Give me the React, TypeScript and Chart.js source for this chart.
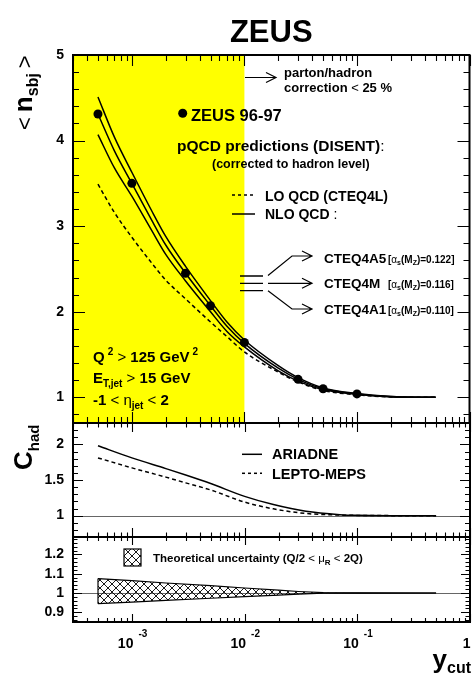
import React, { useEffect, useRef } from 'react';
import { Chart, registerables } from 'chart.js';

Chart.register(...registerables);

const FONT = '"Liberation Sans", Arial, Helvetica, sans-serif';
const W = 474;
const H = 680;

const X_MIN = 3e-4;
const X_MAX = 1;
const YELLOW_MAX = 1e-2;

// ZEUS 96-97 data
const zeusYcut = [5e-4, 1e-3, 3e-3, 5e-3, 1e-2, 3e-2, 5e-2, 1e-1];
const zeusNsbj = [4.31, 3.5, 2.45, 2.07, 1.64, 1.21, 1.1, 1.04];

// pQCD predictions (DISENT)
const curveYcut = [5e-4, 7e-4, 1e-3, 1.5e-3, 2e-3, 3e-3, 5e-3, 7e-3, 1e-2, 2e-2, 3e-2, 5e-2, 1e-1, 2e-1, 5e-1];
const nloCteq4A5 = [4.51, 4.04, 3.63, 3.18, 2.88, 2.53, 2.13, 1.88, 1.67, 1.37, 1.23, 1.11, 1.045, 1.01, 1.0];
const nloCteq4M = [4.31, 3.88, 3.5, 3.07, 2.78, 2.45, 2.07, 1.83, 1.63, 1.34, 1.21, 1.1, 1.04, 1.01, 1.0];
const nloCteq4A1 = [4.07, 3.68, 3.35, 2.95, 2.67, 2.36, 2.0, 1.77, 1.59, 1.31, 1.19, 1.09, 1.035, 1.005, 1.0];
const loCteq4L = [3.49, 3.16, 2.87, 2.57, 2.37, 2.15, 1.88, 1.71, 1.53, 1.295, 1.18, 1.08, 1.03, 1.005, 1.0];

// hadronisation corrections
const hadYcut = [5e-4, 1e-3, 2e-3, 3e-3, 5e-3, 1e-2, 1.8e-2, 3.5e-2, 7e-2, 1e-1, 2e-1, 5e-1];
const chadAriadne = [1.98, 1.81, 1.66, 1.57, 1.45, 1.27, 1.155, 1.06, 1.014, 1.004, 1.0, 1.0];
const chadLepto = [1.81, 1.67, 1.54, 1.46, 1.36, 1.19, 1.095, 1.03, 1.008, 1.003, 1.0, 1.0];

// theoretical uncertainty band
const uncYcut = [5e-4, 1e-3, 2e-3, 5e-3, 1e-2, 2e-2, 3e-2, 5e-2, 1e-1, 5e-1];
const uncUpper = [1.075, 1.064, 1.052, 1.038, 1.026, 1.015, 1.008, 1.002, 1.0005, 1.0];
const uncLower = [0.945, 0.953, 0.962, 0.973, 0.981, 0.989, 0.994, 0.999, 0.9995, 1.0];

// tick labels
const topYTicks = [1, 2, 3, 4, 5];
const midYTicks = [1, 1.5, 2];
const botYTicks = [0.9, 1, 1.1, 1.2];
const xLabelValues = [1e-3, 1e-2, 1e-1, 1];
const xLabelExponents = ['-3', '-2', '-1', ''];

type Part = { t: string; size: number; bold?: boolean; dy?: number; dx?: number };

function fontOf(p: Part) {
  return `${p.bold ? 'bold ' : ''}${p.size}px ${FONT}`;
}

function rich(ctx: CanvasRenderingContext2D, x: number, y: number, parts: Part[], align: 'left' | 'right' | 'center' = 'left') {
  ctx.textAlign = 'left';
  ctx.textBaseline = 'alphabetic';
  let total = 0;
  for (const p of parts) {
    ctx.font = fontOf(p);
    total += (p.dx || 0) + ctx.measureText(p.t).width;
  }
  let cx = align === 'right' ? x - total : align === 'center' ? x - total / 2 : x;
  for (const p of parts) {
    ctx.font = fontOf(p);
    cx += p.dx || 0;
    ctx.fillText(p.t, cx, y + (p.dy || 0));
    cx += ctx.measureText(p.t).width;
  }
}

function arrow(ctx: CanvasRenderingContext2D, pts: number[][], head = 10, half = 5) {
  ctx.beginPath();
  ctx.moveTo(pts[0][0], pts[0][1]);
  for (let i = 1; i < pts.length; i++) ctx.lineTo(pts[i][0], pts[i][1]);
  const [ex, ey] = pts[pts.length - 1];
  ctx.moveTo(ex - head, ey - half);
  ctx.lineTo(ex, ey);
  ctx.lineTo(ex - head, ey + half);
  ctx.stroke();
}

interface FrameOpts {
  yStep: number;
  yMajor: number[];
  yMajLen: number;
  yMinLen: number;
  xMajLen: number;
  xMinLen: number;
}

function drawFrame(chart: any, o: FrameOpts) {
  const { ctx, chartArea: a, scales } = chart;
  const xs = scales.x;
  const ys = scales.y;
  ctx.save();
  ctx.strokeStyle = '#000';
  ctx.lineWidth = 1.1;
  ctx.beginPath();
  for (let e = -4; e <= 0; e++) {
    for (let k = 1; k <= 9; k++) {
      const v = k * Math.pow(10, e);
      if (v < X_MIN * 0.999 || v > X_MAX * 1.001) continue;
      const px = Math.round(xs.getPixelForValue(v)) + 0.5;
      const len = k === 1 ? o.xMajLen : o.xMinLen;
      ctx.moveTo(px, a.bottom);
      ctx.lineTo(px, a.bottom - len);
      ctx.moveTo(px, a.top);
      ctx.lineTo(px, a.top + len);
    }
  }
  const n0 = Math.ceil(ys.min / o.yStep - 1e-6);
  const n1 = Math.floor(ys.max / o.yStep + 1e-6);
  for (let i = n0; i <= n1; i++) {
    const v = i * o.yStep;
    const major = o.yMajor.some((m) => Math.abs(m - v) < 1e-6);
    const py = Math.round(ys.getPixelForValue(v)) + 0.5;
    const len = major ? o.yMajLen : o.yMinLen;
    ctx.moveTo(a.left, py);
    ctx.lineTo(a.left + len, py);
    ctx.moveTo(a.right, py);
    ctx.lineTo(a.right - len, py);
  }
  ctx.stroke();
  ctx.lineWidth = 2;
  ctx.strokeRect(a.left, a.top, a.right - a.left, a.bottom - a.top);
  ctx.restore();
}

function unityLine(chart: any) {
  const { ctx, chartArea: a, scales } = chart;
  const py = Math.round(scales.y.getPixelForValue(1)) + 0.5;
  ctx.save();
  ctx.strokeStyle = '#666';
  ctx.lineWidth = 1;
  ctx.beginPath();
  ctx.moveTo(a.left, py);
  ctx.lineTo(a.right, py);
  ctx.stroke();
  ctx.restore();
}

function baseOptions(padTop: number, padBottom: number, yMin: number, yMax: number, yTicks: number[]): any {
  return {
    responsive: false,
    animation: false,
    events: [],
    layout: { padding: { top: padTop, bottom: padBottom, left: 0, right: 4 } },
    plugins: { legend: { display: false }, tooltip: { enabled: false }, title: { display: false } },
    scales: {
      x: { type: 'logarithmic', min: X_MIN, max: X_MAX, display: false },
      y: {
        type: 'linear',
        min: yMin,
        max: yMax,
        afterBuildTicks: (s: any) => {
          s.ticks = yTicks.map((v) => ({ value: v }));
        },
        afterFit: (s: any) => {
          s.width = 73;
        },
        grid: { display: false, drawTicks: false },
        border: { display: false },
        ticks: {
          color: '#000',
          autoSkip: false,
          padding: 9,
          font: { family: FONT, size: 14, weight: 'bold' },
          callback: (v: any) => String(v),
        },
      },
    },
  };
}

function lineDs(xs: number[], ys: number[], dash: number[] = []) {
  return {
    data: xs.map((x, i) => ({ x, y: ys[i] })),
    borderColor: '#000',
    borderWidth: 1.5,
    borderDash: dash,
    pointRadius: 0,
    cubicInterpolationMode: 'monotone',
    fill: false,
  };
}

function makeHatch(): any {
  const c = document.createElement('canvas');
  c.width = 8;
  c.height = 8;
  const g = c.getContext('2d')!;
  g.strokeStyle = '#000';
  g.lineWidth = 0.9;
  g.beginPath();
  g.moveTo(-2, -2);
  g.lineTo(10, 10);
  g.moveTo(10, -2);
  g.lineTo(-2, 10);
  g.stroke();
  return g.createPattern(c, 'repeat');
}

export default function App() {
  const r1 = useRef<HTMLCanvasElement>(null);
  const r2 = useRef<HTMLCanvasElement>(null);
  const r3 = useRef<HTMLCanvasElement>(null);

  useEffect(() => {
    const charts: Chart[] = [];
    const hatch = makeHatch();

    // ---------- top panel ----------
    const topPlugin = {
      id: 'topPanel',
      beforeDatasetsDraw(chart: any) {
        const { ctx, chartArea: a, scales } = chart;
        ctx.save();
        ctx.fillStyle = '#ffff00';
        ctx.fillRect(a.left, a.top, scales.x.getPixelForValue(YELLOW_MAX) - a.left, a.bottom - a.top);
        ctx.restore();
      },
      afterDatasetsDraw(chart: any) {
        drawFrame(chart, { yStep: 0.2, yMajor: topYTicks, yMajLen: 12, yMinLen: 6, xMajLen: 11, xMinLen: 6 });
        const { ctx, chartArea: a } = chart;
        ctx.save();
        ctx.fillStyle = '#000';
        ctx.strokeStyle = '#000';
        // title
        rich(ctx, (a.left + a.right) / 2, 42, [{ t: 'ZEUS', size: 31, bold: true }], 'center');
        // y title
        ctx.save();
        ctx.translate(32, 130);
        ctx.rotate(-Math.PI / 2);
        rich(ctx, 0, 0, [
          { t: '<', size: 22 },
          { t: 'n', size: 26, bold: true, dx: 5 },
          { t: 'sbj', size: 16, bold: true, dy: 6 },
          { t: '>', size: 22, dx: 5 },
        ]);
        ctx.restore();
        // parton/hadron arrow
        ctx.lineWidth = 1.2;
        arrow(ctx, [[245, 77.5], [276, 77.5]], 10, 5);
        rich(ctx, 284, 76.5, [{ t: 'parton/hadron', size: 13, bold: true }]);
        rich(ctx, 284, 91.5, [
          { t: 'correction ', size: 13, bold: true },
          { t: '<', size: 13 },
          { t: ' 25 %', size: 13, bold: true },
        ]);
        // ZEUS marker
        ctx.beginPath();
        ctx.arc(182.7, 113.3, 4.5, 0, Math.PI * 2);
        ctx.fill();
        rich(ctx, 191, 120.5, [{ t: 'ZEUS 96-97', size: 16.5, bold: true }]);
        rich(ctx, 177, 151, [
          { t: 'pQCD predictions (DISENT)', size: 15.5, bold: true },
          { t: ':', size: 15.5 },
        ]);
        rich(ctx, 212, 167.5, [{ t: '(corrected to hadron level)', size: 12.5, bold: true }]);
        // LO legend
        ctx.lineWidth = 1.5;
        ctx.setLineDash([3, 3]);
        ctx.beginPath();
        ctx.moveTo(232, 195);
        ctx.lineTo(255, 195);
        ctx.stroke();
        ctx.setLineDash([]);
        rich(ctx, 265, 201, [{ t: 'LO QCD (CTEQ4L)', size: 14, bold: true }]);
        // NLO legend
        ctx.beginPath();
        ctx.moveTo(232, 214);
        ctx.lineTo(255, 214);
        ctx.stroke();
        rich(ctx, 265, 219, [
          { t: 'NLO QCD ', size: 14, bold: true },
          { t: ':', size: 14 },
        ]);
        // three NLO lines and arrows
        ctx.lineWidth = 1.3;
        ctx.beginPath();
        for (const yy of [276, 283.3, 290.7]) {
          ctx.moveTo(240, yy);
          ctx.lineTo(263, yy);
        }
        ctx.stroke();
        ctx.lineWidth = 1.2;
        arrow(ctx, [[268, 275.5], [292, 256], [312, 256]], 10, 5);
        arrow(ctx, [[268, 283.3], [312, 283.3]], 10, 5);
        arrow(ctx, [[268, 290.7], [292, 309], [312, 309]], 10, 5);
        const bracket = (val: string): Part[] => [
          { t: '[', size: 10, bold: true },
          { t: 'α', size: 10 },
          { t: 's', size: 7, bold: true, dy: 2 },
          { t: '(M', size: 10, bold: true },
          { t: 'Z', size: 7, bold: true, dy: 2 },
          { t: `)=${val}]`, size: 10, bold: true },
        ];
        rich(ctx, 324, 262.5, [{ t: 'CTEQ4A5', size: 13.5, bold: true }]);
        rich(ctx, 388, 262.5, bracket('0.122'));
        rich(ctx, 324, 288, [{ t: 'CTEQ4M', size: 13.5, bold: true }]);
        rich(ctx, 388, 288, bracket('0.116'));
        rich(ctx, 324, 314, [{ t: 'CTEQ4A1', size: 13.5, bold: true }]);
        rich(ctx, 388, 314, bracket('0.110'));
        // cuts
        rich(ctx, 93, 361.5, [
          { t: 'Q', size: 15, bold: true },
          { t: '2', size: 10, bold: true, dy: -7, dx: 3 },
          { t: ' ', size: 15 },
          { t: '>', size: 15 },
          { t: ' 125 GeV', size: 15, bold: true },
          { t: '2', size: 10, bold: true, dy: -7, dx: 3 },
        ]);
        rich(ctx, 93, 382.5, [
          { t: 'E', size: 15, bold: true },
          { t: 'T,jet', size: 10, bold: true, dy: 4 },
          { t: ' ', size: 15 },
          { t: '>', size: 15 },
          { t: ' 15 GeV', size: 15, bold: true },
        ]);
        rich(ctx, 93, 404.5, [
          { t: '-1 ', size: 15, bold: true },
          { t: '<', size: 15 },
          { t: ' ', size: 15 },
          { t: 'η', size: 15 },
          { t: 'jet', size: 10, bold: true, dy: 4 },
          { t: ' ', size: 15 },
          { t: '<', size: 15 },
          { t: ' 2', size: 15, bold: true },
        ]);
        ctx.restore();
      },
    };

    const pts = {
      data: zeusYcut.map((x, i) => ({ x, y: zeusNsbj[i] })),
      showLine: false,
      pointRadius: 4.5,
      pointBackgroundColor: '#000',
      pointBorderWidth: 0,
      borderColor: '#000',
    };

    charts.push(
      new Chart(r1.current!, {
        type: 'line',
        data: {
          datasets: [
            lineDs(curveYcut, loCteq4L, [4, 3]),
            lineDs(curveYcut, nloCteq4A5),
            lineDs(curveYcut, nloCteq4M),
            lineDs(curveYcut, nloCteq4A1),
            pts,
          ] as any,
        },
        options: baseOptions(55, H - 423, 0.7, 5, topYTicks),
        plugins: [topPlugin],
      })
    );

    // ---------- middle panel ----------
    const midPlugin = {
      id: 'midPanel',
      beforeDatasetsDraw(chart: any) {
        unityLine(chart);
      },
      afterDatasetsDraw(chart: any) {
        drawFrame(chart, { yStep: 0.1, yMajor: midYTicks, yMajLen: 10, yMinLen: 5, xMajLen: 9, xMinLen: 4.5 });
        const { ctx } = chart;
        ctx.save();
        ctx.fillStyle = '#000';
        ctx.strokeStyle = '#000';
        ctx.save();
        ctx.translate(32, 470);
        ctx.rotate(-Math.PI / 2);
        rich(ctx, 0, 0, [
          { t: 'C', size: 26, bold: true },
          { t: 'had', size: 15, bold: true, dy: 7 },
        ]);
        ctx.restore();
        ctx.lineWidth = 1.5;
        ctx.beginPath();
        ctx.moveTo(242, 454.3);
        ctx.lineTo(262, 454.3);
        ctx.stroke();
        ctx.setLineDash([3, 3]);
        ctx.beginPath();
        ctx.moveTo(242, 473.3);
        ctx.lineTo(262, 473.3);
        ctx.stroke();
        ctx.setLineDash([]);
        rich(ctx, 272, 458.5, [{ t: 'ARIADNE', size: 14.5, bold: true }]);
        rich(ctx, 272, 478.5, [{ t: 'LEPTO-MEPS', size: 14.5, bold: true }]);
        ctx.restore();
      },
    };

    charts.push(
      new Chart(r2.current!, {
        type: 'line',
        data: {
          datasets: [lineDs(hadYcut, chadAriadne), lineDs(hadYcut, chadLepto, [4, 3])] as any,
        },
        options: baseOptions(423, H - 537, 0.7, 2.3, midYTicks),
        plugins: [midPlugin],
      })
    );

    // ---------- bottom panel ----------
    const botPlugin = {
      id: 'botPanel',
      beforeDatasetsDraw(chart: any) {
        unityLine(chart);
      },
      afterDatasetsDraw(chart: any) {
        const { ctx, scales } = chart;
        ctx.save();
        ctx.strokeStyle = '#000';
        ctx.lineWidth = 1.2;
        const x0 = scales.x.getPixelForValue(uncYcut[0]);
        ctx.beginPath();
        ctx.moveTo(x0, scales.y.getPixelForValue(uncLower[0]));
        ctx.lineTo(x0, scales.y.getPixelForValue(uncUpper[0]));
        ctx.stroke();
        ctx.restore();
        drawFrame(chart, { yStep: 0.02, yMajor: botYTicks, yMajLen: 9, yMinLen: 4.5, xMajLen: 8, xMinLen: 4 });
        ctx.save();
        ctx.fillStyle = hatch;
        ctx.fillRect(124, 549, 17, 17);
        ctx.strokeStyle = '#000';
        ctx.lineWidth = 1.2;
        ctx.strokeRect(124, 549, 17, 17);
        ctx.fillStyle = '#000';
        rich(ctx, 153, 561.5, [
          { t: 'Theoretical uncertainty (Q/2 ', size: 11.5, bold: true },
          { t: '<', size: 11.5 },
          { t: ' ', size: 11.5 },
          { t: 'μ', size: 11.5 },
          { t: 'R', size: 8, bold: true, dy: 3 },
          { t: ' ', size: 11.5 },
          { t: '<', size: 11.5 },
          { t: ' 2Q)', size: 11.5, bold: true },
        ]);
        // x tick labels
        xLabelValues.forEach((v, i) => {
          const px = scales.x.getPixelForValue(v);
          const ex = xLabelExponents[i];
          if (ex) {
            rich(ctx, px + 1.5, 647.5, [{ t: '10', size: 14, bold: true }], 'right');
            rich(ctx, px + 6.5, 637, [{ t: ex, size: 10, bold: true }]);
          } else {
            rich(ctx, px + 0.5, 647.5, [{ t: '1', size: 14, bold: true }], 'right');
          }
        });
        rich(ctx, 471, 668, [
          { t: 'y', size: 26, bold: true },
          { t: 'cut', size: 16, bold: true, dy: 5 },
        ], 'right');
        ctx.restore();
      },
    };

    charts.push(
      new Chart(r3.current!, {
        type: 'line',
        data: {
          datasets: [
            {
              data: uncYcut.map((x, i) => ({ x, y: uncLower[i] })),
              borderColor: '#000',
              borderWidth: 1.2,
              pointRadius: 0,
              fill: false,
            },
            {
              data: uncYcut.map((x, i) => ({ x, y: uncUpper[i] })),
              borderColor: '#000',
              borderWidth: 1.2,
              pointRadius: 0,
              fill: '-1',
              backgroundColor: hatch,
            },
          ] as any,
        },
        options: baseOptions(537, H - 622, 0.85, 1.29, botYTicks),
        plugins: [botPlugin],
      })
    );

    return () => charts.forEach((c) => c.destroy());
  }, []);

  const cs: React.CSSProperties = { position: 'absolute', left: 0, top: 0, width: W, height: H };
  return (
    <div style={{ position: 'fixed', left: 0, top: 0, width: W, height: H, background: '#fff' }}>
      <canvas ref={r1} width={W} height={H} style={cs} />
      <canvas ref={r2} width={W} height={H} style={cs} />
      <canvas ref={r3} width={W} height={H} style={cs} />
    </div>
  );
}
